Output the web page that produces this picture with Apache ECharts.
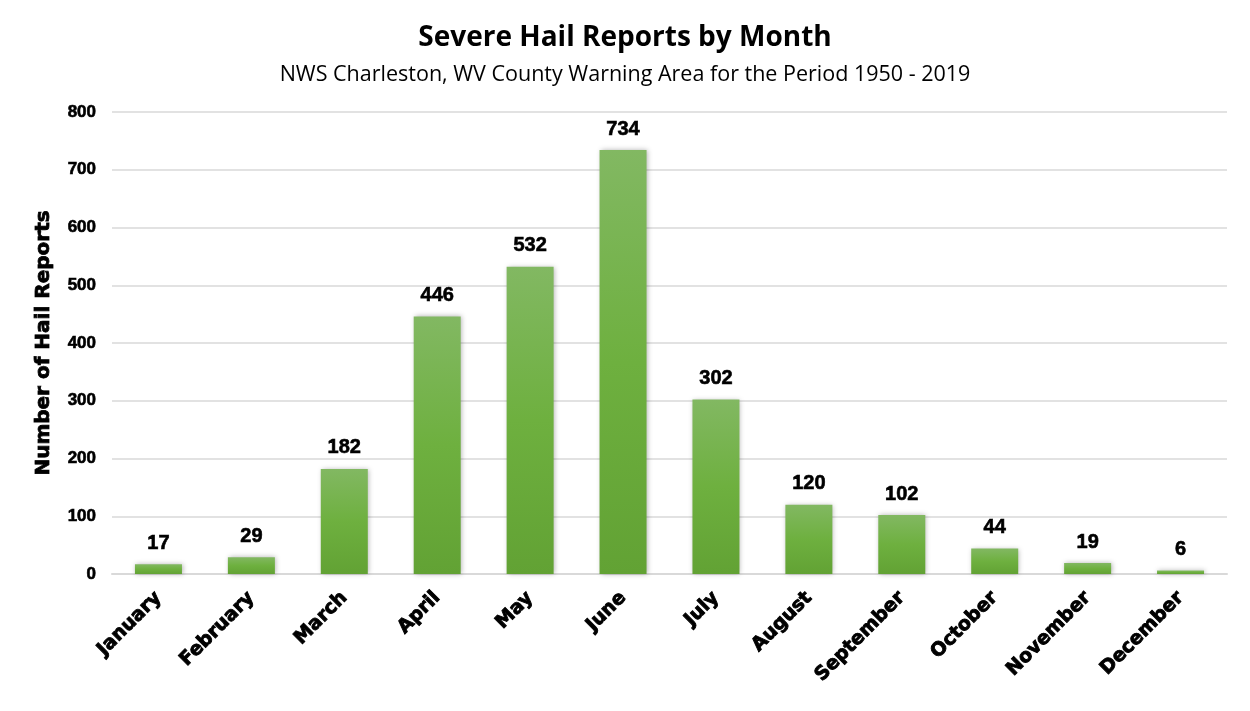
<!DOCTYPE html>
<html><head><meta charset="utf-8">
<script src="https://cdn.jsdelivr.net/npm/echarts@6/dist/echarts.min.js"></script>
<style>html,body{margin:0;padding:0;background:#fff}#c{width:1250px;height:711px}</style>
</head><body><div id="c"></div>
<script>
const months = ['January','February','March','April','May','June','July','August','September','October','November','December'];
const reports = [17, 29, 182, 446, 532, 734, 302, 120, 102, 44, 19, 6];
const yTicks = {min: 0, max: 800, interval: 100};
const chart = echarts.init(document.getElementById('c'), null, {renderer: 'canvas'});
chart.setOption({
  animation: false,
  backgroundColor: '#fff',
  title: [
    {text: 'Severe Hail Reports by Month', left: 'center', top: 19,
     textStyle: {fontFamily: 'Open Sans', fontWeight: 'bold', fontSize: 28, color: '#000'}},
    {text: 'NWS Charleston, WV County Warning Area for the Period 1950 - 2019', left: 'center', top: 59,
     textStyle: {fontFamily: 'Open Sans', fontWeight: 'normal', fontSize: 21.5, color: '#000'}}
  ],
  grid: {left: 112, right: 23, top: 112, bottom: 137, containLabel: false},
  xAxis: {
    type: 'category', data: months,
    axisLine: {show: true, lineStyle: {color: '#d9d9d9', width: 2}},
    axisTick: {show: false},
    axisLabel: {rotate: 45, interval: 0, margin: 21, color: '#000', fontFamily: 'DejaVu Sans', fontWeight: 'bold', fontSize: 19, textBorderColor: '#000', textBorderWidth: 0.9}
  },
  yAxis: {
    type: 'value', min: yTicks.min, max: yTicks.max, interval: yTicks.interval,
    name: 'Number of Hail Reports', nameLocation: 'middle', nameGap: 58, nameRotate: 90,
    nameTextStyle: {fontFamily: 'DejaVu Sans', fontWeight: 'bold', fontSize: 20, color: '#000', textBorderColor: '#000', textBorderWidth: 0.8},
    axisLine: {show: false}, axisTick: {show: false},
    axisLabel: {color: '#000', fontFamily: 'Liberation Sans', fontWeight: 'bold', fontSize: 17, margin: 16, textBorderColor: '#000', textBorderWidth: 0.6},
    splitLine: {lineStyle: {color: '#d9d9d9', width: 1.5}}
  },
  series: [{
    type: 'bar', data: reports, barWidth: 47,
    itemStyle: {
      color: new echarts.graphic.LinearGradient(0, 0, 0, 1, [
        {offset: 0, color: '#82b862'}, {offset: 0.5, color: '#6eb03f'}, {offset: 1, color: '#62a234'}
      ]),
      shadowColor: 'rgba(0,0,0,0.3)', shadowBlur: 5, shadowOffsetX: 1
    },
    label: {show: true, position: 'top', distance: 11, color: '#000', fontFamily: 'Liberation Sans', fontWeight: 'bold', fontSize: 20, textBorderColor: '#000', textBorderWidth: 0.6}
  }]
});
</script></body></html>
